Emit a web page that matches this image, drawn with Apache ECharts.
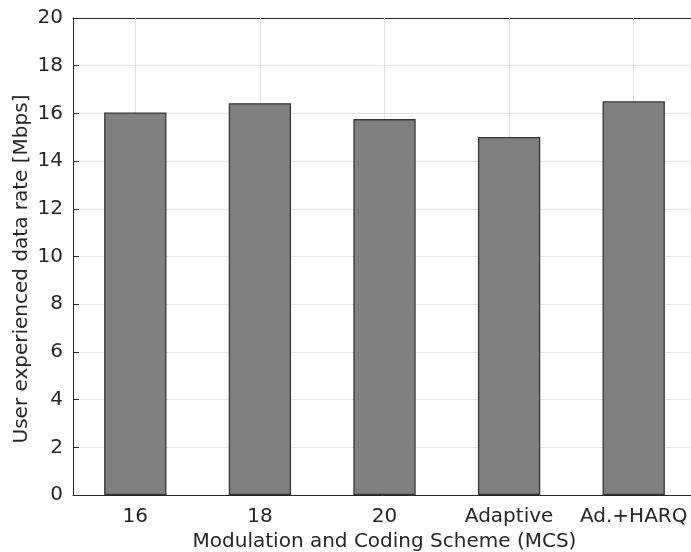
<!DOCTYPE html>
<html>
<head>
<meta charset="utf-8">
<script src="https://cdn.jsdelivr.net/npm/echarts@6/dist/echarts.min.js"></script>
<style>
  html, body { margin: 0; padding: 0; background: #ffffff; }
  #chart { width: 691px; height: 552px; }
</style>
</head>
<body>
<div id="chart"></div>
<script>
// MCS schemes and measured user data rate (Mbps)
const categories = ['16', '18', '20', 'Adaptive', 'Ad.+HARQ'];
const dataRate = [16.04, 16.43, 15.76, 15.01, 16.51];
const yTicks = [0, 2, 4, 6, 8, 10, 12, 14, 16, 18, 20];

const FONT = 'DejaVu Sans';
const INK = '#262626';
const GRID = '#e3e3e3';

const chart = echarts.init(document.getElementById('chart'), null, { renderer: 'canvas' });

chart.setOption({
  animation: false,
  backgroundColor: '#ffffff',
  grid: { left: 73, top: 18, width: 623, height: 477, containLabel: false, outerBoundsMode: 'none' },
  xAxis: [{
    type: 'category',
    data: categories,
    boundaryGap: true,
    name: 'Modulation and Coding Scheme (MCS)',
    nameLocation: 'middle',
    nameGap: 36,
    nameTextStyle: { fontFamily: FONT, fontSize: 20, color: INK },
    axisLine: { show: true, lineStyle: { color: INK, width: 1 } },
    axisTick: { show: true, alignWithLabel: true, inside: true, length: 6, lineStyle: { color: INK } },
    axisLabel: { fontFamily: FONT, fontSize: 20, color: INK, margin: 12, interval: 0 },
    splitLine: { show: false }
  }, {
    // box top edge with inward ticks
    type: 'category',
    data: categories,
    position: 'top',
    boundaryGap: true,
    axisLine: { show: true, lineStyle: { color: INK, width: 1 } },
    axisTick: { show: true, alignWithLabel: true, inside: true, length: 6, lineStyle: { color: INK } },
    axisLabel: { show: false },
    splitLine: { show: false }
  }],
  yAxis: {
    type: 'value',
    min: yTicks[0],
    max: yTicks[yTicks.length - 1],
    interval: 2,
    axisLine: { show: true, lineStyle: { color: INK, width: 1 } },
    axisTick: { show: true, inside: true, length: 6, lineStyle: { color: INK } },
    axisLabel: { fontFamily: FONT, fontSize: 20, color: INK, margin: 10 },
    splitLine: { show: true, lineStyle: { color: GRID, width: 1 } }
  },
  graphic: [{
    type: 'text',
    x: 22,
    y: 269,
    rotation: Math.PI / 2,
    style: {
      text: 'User experienced data rate [Mbps]',
      fontFamily: FONT,
      fontSize: 20,
      fill: INK,
      align: 'center',
      verticalAlign: 'middle'
    }
  }],
  series: [{
    // vertical grid lines at the category centres, kept behind the bars
    type: 'line',
    data: [],
    z: 1,
    silent: true,
    markLine: {
      z: 1,
      silent: true,
      symbol: ['none', 'none'],
      label: { show: false },
      lineStyle: { color: GRID, width: 1, type: 'solid' },
      data: categories.map(c => ({ xAxis: c }))
    }
  }, {
    type: 'bar',
    data: dataRate,
    barWidth: '50%',
    itemStyle: { color: '#808080', borderColor: '#363636', borderWidth: 1.3 },
    z: 3
  }]
});
</script>
</body>
</html>
